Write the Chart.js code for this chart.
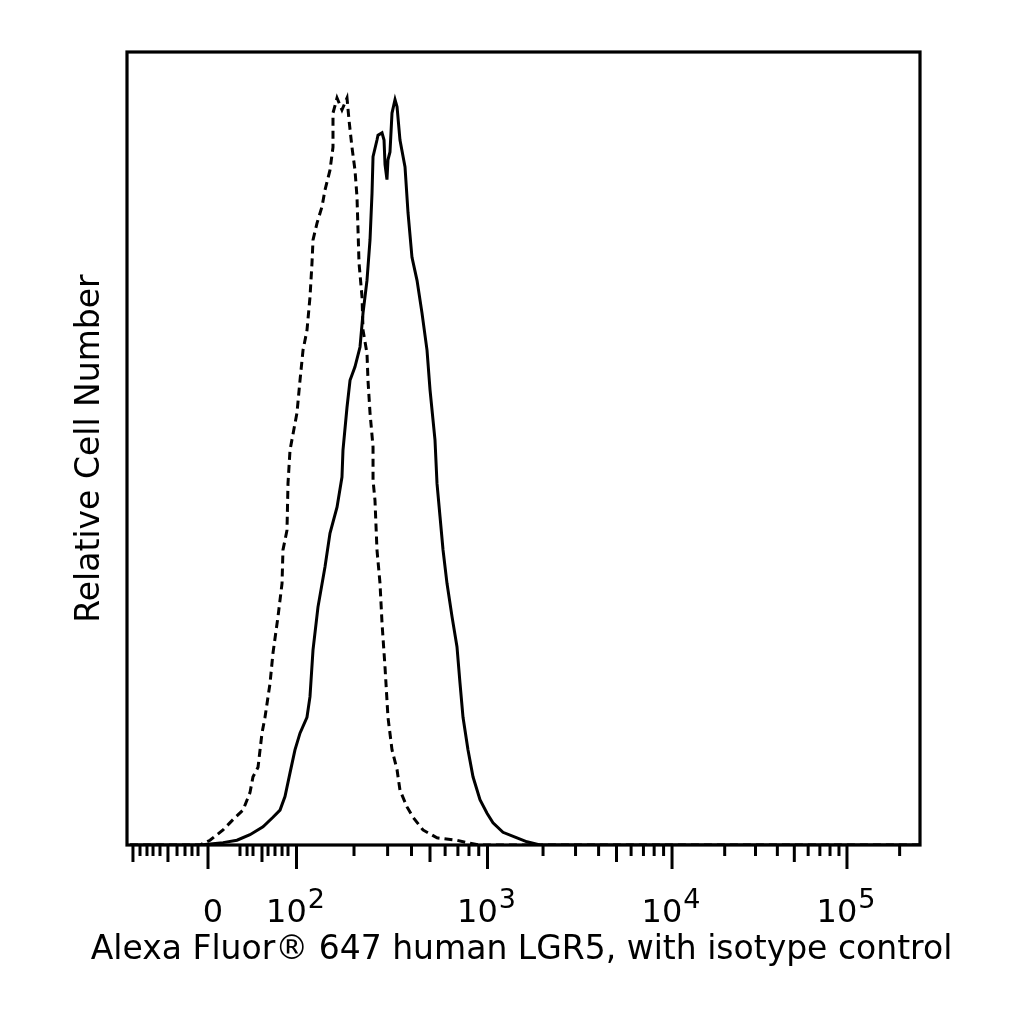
<!DOCTYPE html>
<html>
<head>
<meta charset="utf-8">
<script src="https://cdn.jsdelivr.net/npm/chart.js@4/dist/chart.umd.min.js"></script>
<style>
  html, body { margin: 0; padding: 0; background: #ffffff; }
  #wrap { width: 1024px; height: 1024px; }
</style>
</head>
<body>
<div id="wrap"><canvas id="c" width="1024" height="1024"></canvas></div>
<script>
// x: display channel (0-1024, biexponential display); y: relative cell number (% of axis max)
const isotypeX = [3.9, 94.3, 107.2, 124.0, 136.9, 149.8, 158.8, 162.7, 169.2, 174.3, 178.2, 184.7, 188.5, 195.0, 200.2, 201.4, 206.6, 207.9, 210.5, 219.5, 223.4, 227.3, 232.4, 236.3, 238.9, 240.2, 245.3, 251.8, 255.7, 262.1, 266.0, 266.0, 271.2, 277.6, 284.1, 286.7, 290.5, 294.4, 297.0, 298.3, 299.6, 303.5, 304.8, 309.9, 311.2, 313.8, 317.7, 317.7, 320.2, 322.8, 326.7, 329.3, 333.2, 337.0, 342.2, 348.7, 352.5, 361.6, 369.3, 382.2, 400.3, 426.1, 439.0, 455.8, 1024];
const isotypeY = [0, 0, 0.6, 1.9, 3.2, 4.4, 6.6, 8.6, 9.8, 14.1, 16.1, 20.4, 24.2, 28.8, 33.0, 37.2, 39.7, 45.6, 49.8, 54.5, 58.6, 62.4, 64.9, 69.1, 73.4, 76.3, 78.4, 80.5, 82.6, 85.1, 88.0, 92.3, 94.2, 92.7, 94.2, 91.4, 88.0, 85.1, 81.7, 77.6, 73.4, 69.1, 64.9, 62.0, 58.6, 54.5, 50.2, 46.0, 43.5, 37.2, 33.0, 28.0, 22.4, 16.1, 12.0, 9.5, 6.9, 4.8, 3.5, 1.9, 0.9, 0.6, 0.3, 0, 0];

const lgr5X = [3.9, 94.3, 124.0, 142.0, 158.8, 175.6, 188.5, 197.6, 204.0, 210.5, 216.9, 223.4, 232.4, 236.3, 240.2, 246.6, 255.7, 262.1, 271.2, 277.6, 278.9, 284.1, 288.0, 294.4, 300.9, 304.8, 309.9, 313.8, 316.4, 317.7, 322.8, 324.1, 329.3, 331.9, 333.2, 335.7, 337.0, 339.6, 342.2, 346.1, 348.7, 352.5, 359.0, 362.9, 368.0, 374.5, 380.9, 387.4, 391.3, 397.7, 400.3, 404.2, 408.1, 413.2, 419.7, 426.1, 430.0, 433.9, 440.3, 446.8, 455.8, 464.9, 472.6, 485.5, 503.6, 516.5, 533.3, 1024];
const lgr5Y = [0, 0, 0.3, 0.6, 1.3, 2.3, 3.5, 4.4, 6.1, 9.1, 12.0, 14.1, 16.1, 18.7, 24.6, 30.0, 35.1, 39.3, 42.6, 46.4, 49.8, 55.2, 58.6, 60.3, 62.8, 67.1, 71.2, 76.3, 82.2, 86.8, 88.9, 89.5, 89.8, 88.9, 85.8, 83.9, 86.4, 87.4, 92.3, 94.0, 93.1, 88.9, 85.5, 79.7, 74.1, 71.2, 67.1, 62.4, 57.4, 51.1, 45.6, 41.4, 37.2, 33.0, 28.8, 25.0, 20.4, 16.1, 12.0, 8.6, 5.7, 4.0, 2.8, 1.6, 0.9, 0.4, 0, 0];

// axis ticks
const decadeChannels = [104.6, 218.9, 465.5, 703.8, 929.7];   // 0, 10^2, 10^3, 10^4, 10^5
const decadeBase = ['0', '10', '10', '10', '10'];
const decadeExponent = ['', '2', '3', '4', '5'];
const linearMediumChannels = [7.7, 52.9, 174.3];
const linearMinorChannels = [16.8, 25.8, 33.6, 42.6, 64.6, 74.9, 83.9, 91.7, 145.9, 155.0, 162.7, 182.1, 191.1, 200.2, 207.9];
const logMinorMultipliers = [2, 3, 4, 6, 7, 8, 9];
const logMediumMultipliers = [5];

const xTitle = 'Alexa Fluor\u00AE 647 human LGR5, with isotype control';
const yTitle = 'Relative Cell Number';

function toPoints(xs, ys) { return xs.map((x, i) => ({ x: x, y: ys[i] })); }

// channel of m * 10^k inside the log decades (k >= 2)
function logChannel(m, k) {
  const i = k - 1;
  const lo = decadeChannels[i];
  const hi = i + 1 < decadeChannels.length ? decadeChannels[i + 1] : lo + (lo - decadeChannels[i - 1]);
  return lo + Math.log10(m) * (hi - lo);
}

const axisPlugin = {
  id: 'flowAxis',
  afterDraw(chart) {
    const ctx = chart.ctx;
    const a = chart.chartArea;
    const xs = chart.scales.x;
    ctx.save();
    ctx.strokeStyle = '#000';
    ctx.fillStyle = '#000';
    ctx.lineWidth = 3.2;
    ctx.strokeRect(a.left, a.top, a.right - a.left, a.bottom - a.top);

    const tick = (ch, len) => {
      if (ch < xs.min || ch > xs.max) return;
      const px = xs.getPixelForValue(ch);
      ctx.beginPath();
      ctx.moveTo(px, a.bottom);
      ctx.lineTo(px, a.bottom + len);
      ctx.stroke();
    };
    ctx.lineWidth = 3;
    decadeChannels.forEach(ch => tick(ch, 24));
    linearMediumChannels.forEach(ch => tick(ch, 17));
    linearMinorChannels.forEach(ch => tick(ch, 11));
    for (let k = 2; k <= 5; k++) {
      logMinorMultipliers.forEach(m => tick(logChannel(m, k), 11));
      logMediumMultipliers.forEach(m => tick(logChannel(m, k), 17));
    }

    // tick labels with raised exponents
    const baseFont = '32px "DejaVu Sans"';
    const expFont = '27px "DejaVu Sans"';
    ctx.textBaseline = 'alphabetic';
    ctx.textAlign = 'left';
    decadeChannels.forEach((ch, i) => {
      const px = xs.getPixelForValue(ch);
      ctx.font = baseFont;
      const wb = ctx.measureText(decadeBase[i]).width;
      ctx.font = expFont;
      const we = decadeExponent[i] ? ctx.measureText(decadeExponent[i]).width + 1 : 0;
      const start = px - (wb + we) / 2 + (i === 0 ? 5 : -1);
      ctx.font = baseFont;
      ctx.fillText(decadeBase[i], start, 922);
      if (decadeExponent[i]) {
        ctx.font = expFont;
        ctx.fillText(decadeExponent[i], start + wb + 1, 908);
      }
    });

    // x-axis title
    ctx.font = '33px "DejaVu Sans"';
    ctx.textAlign = 'center';
    ctx.fillText(xTitle, (a.left + a.right) / 2 - 2, 959);
    ctx.restore();
  }
};

new Chart(document.getElementById('c'), {
  type: 'line',
  data: {
    datasets: [
      {
        label: 'LGR5',
        data: toPoints(lgr5X, lgr5Y),
        borderColor: '#000',
        borderWidth: 3,
        pointRadius: 0,
        fill: false,
        tension: 0
      },
      {
        label: 'Isotype control',
        data: toPoints(isotypeX, isotypeY),
        borderColor: '#000',
        borderWidth: 3,
        borderDash: [8, 5],
        pointRadius: 0,
        fill: false,
        tension: 0
      }
    ]
  },
  options: {
    responsive: false,
    devicePixelRatio: 1,
    animation: false,
    layout: { padding: { top: 52, right: 104, left: 0, bottom: 0 } },
    plugins: { legend: { display: false }, tooltip: { enabled: false } },
    scales: {
      x: {
        type: 'linear',
        min: 0,
        max: 1024,
        grid: { display: false },
        border: { display: false },
        ticks: { display: false },
        afterFit(s) { s.height = 179; }
      },
      y: {
        type: 'linear',
        min: 0,
        max: 100,
        grid: { display: false },
        border: { display: false },
        ticks: { display: false },
        title: {
          display: true,
          text: yTitle,
          color: '#000',
          font: { family: 'DejaVu Sans', size: 33, lineHeight: 1 },
          padding: { top: 74, bottom: 0 }
        },
        afterFit(s) { s.width = 127; }
      }
    }
  },
  plugins: [axisPlugin]
});
</script>
</body>
</html>
